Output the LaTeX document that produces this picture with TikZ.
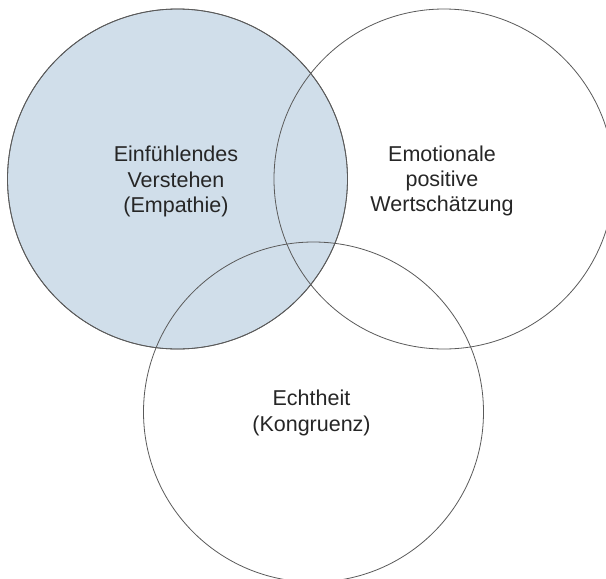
\documentclass[tikz,border=0pt]{standalone}
\usepackage{fontspec}
\setmainfont{Liberation Sans}
\definecolor{empfill}{RGB}{208,222,234}
\definecolor{ringline}{RGB}{90,90,90}
\begin{document}
\begin{tikzpicture}[x=1pt,y=-1pt,
  ring/.style={circle,draw=ringline,line width=0.8pt,minimum size=340pt,inner sep=0pt},
  lbl/.style={align=center,font=\fontsize{21.5}{25.3}\selectfont,text=black!85,inner sep=0pt}]
\useasboundingbox (0,0) rectangle (606,579);
\fill[white] (0,0) rectangle (606,579);
\node[ring,fill=empfill] (c1) at (177.5,179) {};
\node[ring] (c2) at (444,179) {};
\node[ring] (c3) at (313.5,412) {};
\node[ring,fill=none] (c1b) at (177.5,179) {};
\node[lbl] (t1) at (176,181.5) {Einfühlendes\\Verstehen\\(Empathie)};
\node[lbl] (t2) at (442,181) {Emotionale\\positive\\Wertschätzung};
\node[lbl] (t3) at (311.5,413) {Echtheit\\(Kongruenz)};
\end{tikzpicture}
\end{document}
